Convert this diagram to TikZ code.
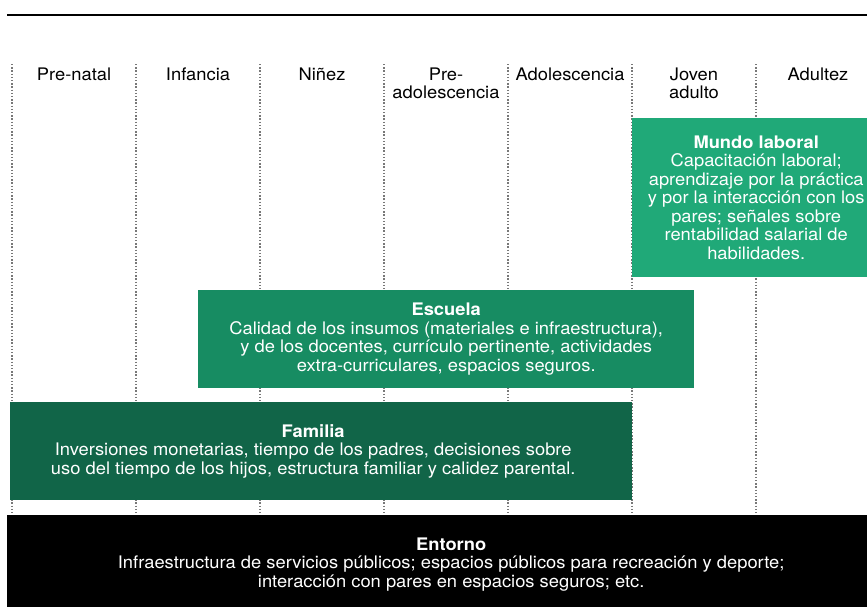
\documentclass[tikz,border=0pt]{standalone}
\usepackage{fontspec}
\setmainfont[FakeStretch=1.06]{TeX Gyre Heros}
\usetikzlibrary{positioning}

\definecolor{mundo}{RGB}{32,169,120}
\definecolor{escuela}{RGB}{23,140,98}
\definecolor{familia}{RGB}{17,101,72}
\definecolor{sepgray}{RGB}{120,120,120}

\begin{document}
\begin{tikzpicture}[x=1pt,y=-1pt,
	every node/.style={font=\fontsize{17.3}{18.5}\selectfont},
	hdr/.style={align=center,anchor=north,inner sep=0pt},
	area/.style={text=white,align=center,inner sep=0pt,anchor=north west},
	sep/.style={sepgray,line width=1.3pt,dash pattern=on 1.3pt off 1.9pt}]
	\useasboundingbox (0,0) rectangle (867,606);
	\draw[line width=1.5pt] (7,15) -- (867,15);
	% columns
	\foreach \x in {12,136,...,756}
		\draw[sep] (\x,64) -- (\x,515);
	\foreach \x/\n/\t in {74/prenatal/Pre-natal,198/infancia/Infancia,322/ninez/Niñez,
			446/preado/Pre-\\adolescencia,570/adol/Adolescencia,694/joven/Joven\\adulto,818/adultez/Adultez}
		\node[hdr] (\n) at (\x,67.5) {\t};
	% areas
	\node[area,fill=mundo,minimum width=248pt,minimum height=159pt] (mundo) at (632,118)
		{\textbf{Mundo laboral}\\Capacitación laboral;\\aprendizaje por la práctica\\y por la interacción con los\\pares; señales sobre\\rentabilidad salarial de\\habilidades.};
	\node[area,fill=escuela,minimum width=496pt,minimum height=98pt] (escuela) at (198,290)
		{\textbf{Escuela}\\Calidad de los insumos (materiales e infraestructura),\\y de los docentes, currículo pertinente, actividades\\extra-curriculares, espacios seguros.};
	\node[area,fill=familia,minimum width=622pt,minimum height=98pt] (familia) at (10,402) {};
	\node[text=white,align=center,inner sep=0pt,xshift=-8pt] (familiatxt) at (familia.center)
		{\textbf{Familia}\\Inversiones monetarias, tiempo de los padres, decisiones sobre\\uso del tiempo de los hijos, estructura familiar y calidez parental.};
	\node[area,fill=black,minimum width=888pt,minimum height=98pt] (entorno) at (7,515)
		{\textbf{Entorno}\\Infraestructura de servicios públicos; espacios públicos para recreación y deporte;\\interacción con pares en espacios seguros; etc.};
\end{tikzpicture}
\end{document}
